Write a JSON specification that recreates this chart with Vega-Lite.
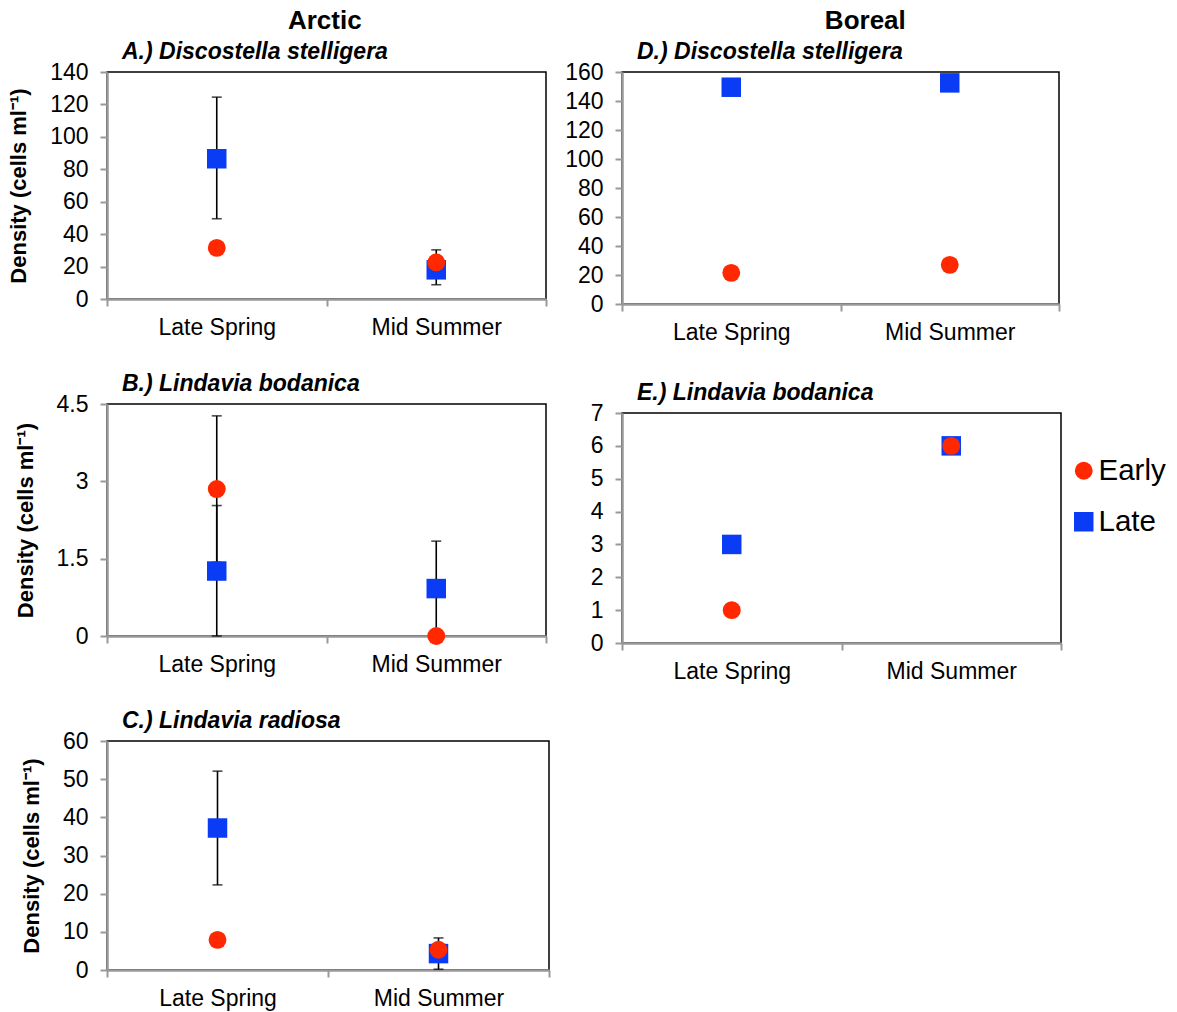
{
  "$schema": "https://vega.github.io/schema/vega-lite/v6.json",
  "background": "white",
  "padding": {"left": 6, "top": 8, "right": 5, "bottom": 5},
  "config": {
    "font": "Liberation Sans",
    "view": {"stroke": "black", "strokeWidth": 1.5},
    "axis": {
      "labelFont": "Liberation Sans", "labelFontSize": 23, "labelColor": "black",
      "domainColor": "#999999", "domainWidth": 2.5, "tickColor": "#999999", "tickWidth": 2, "tickSize": 7,
      "grid": false, "titleFont": "Liberation Sans", "titleFontSize": 22, "titleFontWeight": "bold", "titleColor": "black"
    },
    "axisX": {"labelPadding": 10, "labelAngle": 0, "tickBand": "extent", "title": null},
    "axisY": {"labelPadding": 12, "titlePadding": 19},
    "title": {"font": "Liberation Sans", "fontSize": 23, "fontWeight": "bold", "fontStyle": "italic", "anchor": "start", "frame": "group", "color": "black", "offset": -3, "dx": 15}
  },
  "datasets": {
    "d": [
      {"panel": "A", "season": "Late Spring", "group": "Late", "value": 86.5, "lo": 49.5, "hi": 124.5},
      {"panel": "A", "season": "Mid Summer", "group": "Late", "value": 18, "lo": 8.8, "hi": 30.3},
      {"panel": "A", "season": "Late Spring", "group": "Early", "value": 31.5, "lo": null, "hi": null},
      {"panel": "A", "season": "Mid Summer", "group": "Early", "value": 22.5, "lo": null, "hi": null},
      {"panel": "B", "season": "Late Spring", "group": "Late", "value": 1.26, "lo": 0, "hi": 2.53},
      {"panel": "B", "season": "Mid Summer", "group": "Late", "value": 0.92, "lo": 0, "hi": 1.84},
      {"panel": "B", "season": "Late Spring", "group": "Early", "value": 2.85, "lo": 1.43, "hi": 4.27},
      {"panel": "B", "season": "Mid Summer", "group": "Early", "value": 0, "lo": null, "hi": null},
      {"panel": "C", "season": "Late Spring", "group": "Late", "value": 37.2, "lo": 22.3, "hi": 52.1},
      {"panel": "C", "season": "Mid Summer", "group": "Late", "value": 4.3, "lo": 0.2, "hi": 8.4},
      {"panel": "C", "season": "Late Spring", "group": "Early", "value": 7.9, "lo": null, "hi": null},
      {"panel": "C", "season": "Mid Summer", "group": "Early", "value": 5.3, "lo": null, "hi": null},
      {"panel": "D", "season": "Late Spring", "group": "Late", "value": 149.5, "lo": null, "hi": null},
      {"panel": "D", "season": "Mid Summer", "group": "Late", "value": 152.5, "lo": null, "hi": null},
      {"panel": "D", "season": "Late Spring", "group": "Early", "value": 21.5, "lo": null, "hi": null},
      {"panel": "D", "season": "Mid Summer", "group": "Early", "value": 27, "lo": null, "hi": null},
      {"panel": "E", "season": "Late Spring", "group": "Late", "value": 3, "lo": null, "hi": null},
      {"panel": "E", "season": "Mid Summer", "group": "Late", "value": 6, "lo": null, "hi": null},
      {"panel": "E", "season": "Late Spring", "group": "Early", "value": 1, "lo": null, "hi": null},
      {"panel": "E", "season": "Mid Summer", "group": "Early", "value": 6, "lo": null, "hi": null}
    ]
  },
  "resolve": {"legend": {"color": "independent", "shape": "independent", "size": "independent"}},
  "spacing": 12,
  "hconcat": [
    {
      "title": {"text": "Arctic", "anchor": "middle", "frame": "bounds", "fontStyle": "normal", "fontSize": 26, "dx": 46, "offset": 6},
      "resolve": {"legend": {"color": "independent", "shape": "independent", "size": "independent"}},
      "spacing": 32,
      "vconcat": [
        {
          "title": {"text": "A.) Discostella stelligera"},
          "width": 439, "height": 227,
          "data": {"name": "d"},
          "transform": [{"filter": "datum.panel === 'A'"}],
          "encoding": {"x": {"field": "season", "type": "nominal", "scale": {"type": "band", "paddingInner": 0, "paddingOuter": 0, "domain": ["Late Spring", "Mid Summer"]}}},
          "layer": [
            {"mark": {"type": "rule", "color": "black", "strokeWidth": 1.6}, "encoding": {"y": {"field": "lo", "type": "quantitative", "scale": {"domain": [0, 140], "nice": false}, "axis": {"values": [0, 20, 40, 60, 80, 100, 120, 140], "title": "Density (cells ml⁻¹)"}}, "y2": {"field": "hi"}}},
            {"mark": {"type": "tick", "color": "black", "thickness": 1.6, "size": 10}, "encoding": {"y": {"field": "lo", "type": "quantitative", "scale": {"domain": [0, 140], "nice": false}, "axis": {"values": [0, 20, 40, 60, 80, 100, 120, 140], "title": "Density (cells ml⁻¹)"}}}},
            {"mark": {"type": "tick", "color": "black", "thickness": 1.6, "size": 10}, "encoding": {"y": {"field": "hi", "type": "quantitative", "scale": {"domain": [0, 140], "nice": false}, "axis": {"values": [0, 20, 40, 60, 80, 100, 120, 140], "title": "Density (cells ml⁻¹)"}}}},
            {"mark": {"type": "point", "filled": true, "opacity": 1},
             "encoding": {
               "y": {"field": "value", "type": "quantitative", "scale": {"domain": [0, 140], "nice": false}, "axis": {"values": [0, 20, 40, 60, 80, 100, 120, 140], "title": "Density (cells ml⁻¹)"}},
               "color": {"field": "group", "type": "nominal", "scale": {"domain": ["Early", "Late"], "range": ["#ff2800", "#0a3cf5"]}, "legend": null},
               "shape": {"field": "group", "type": "nominal", "scale": {"domain": ["Early", "Late"], "range": ["circle", "square"]}, "legend": null},
               "size": {"field": "group", "type": "nominal", "scale": {"domain": ["Early", "Late"], "range": [320, 380]}, "legend": null},
               "order": {"field": "group", "sort": "descending"}
             }}
          ]
        },
        {
          "title": {"text": "B.) Lindavia bodanica"},
          "width": 439, "height": 232,
          "data": {"name": "d"},
          "transform": [{"filter": "datum.panel === 'B'"}],
          "encoding": {"x": {"field": "season", "type": "nominal", "scale": {"type": "band", "paddingInner": 0, "paddingOuter": 0, "domain": ["Late Spring", "Mid Summer"]}}},
          "layer": [
            {"mark": {"type": "rule", "color": "black", "strokeWidth": 1.6}, "encoding": {"y": {"field": "lo", "type": "quantitative", "scale": {"domain": [0, 4.5], "nice": false}, "axis": {"values": [0, 1.5, 3, 4.5], "format": ".1~f", "title": "Density (cells ml⁻¹)"}}, "y2": {"field": "hi"}}},
            {"mark": {"type": "tick", "color": "black", "thickness": 1.6, "size": 10}, "encoding": {"y": {"field": "lo", "type": "quantitative", "scale": {"domain": [0, 4.5], "nice": false}, "axis": {"values": [0, 1.5, 3, 4.5], "format": ".1~f", "title": "Density (cells ml⁻¹)"}}}},
            {"mark": {"type": "tick", "color": "black", "thickness": 1.6, "size": 10}, "encoding": {"y": {"field": "hi", "type": "quantitative", "scale": {"domain": [0, 4.5], "nice": false}, "axis": {"values": [0, 1.5, 3, 4.5], "format": ".1~f", "title": "Density (cells ml⁻¹)"}}}},
            {"mark": {"type": "point", "filled": true, "opacity": 1},
             "encoding": {
               "y": {"field": "value", "type": "quantitative", "scale": {"domain": [0, 4.5], "nice": false}, "axis": {"values": [0, 1.5, 3, 4.5], "format": ".1~f", "title": "Density (cells ml⁻¹)"}},
               "color": {"field": "group", "type": "nominal", "scale": {"domain": ["Early", "Late"], "range": ["#ff2800", "#0a3cf5"]}, "legend": null},
               "shape": {"field": "group", "type": "nominal", "scale": {"domain": ["Early", "Late"], "range": ["circle", "square"]}, "legend": null},
               "size": {"field": "group", "type": "nominal", "scale": {"domain": ["Early", "Late"], "range": [320, 380]}, "legend": null},
               "order": {"field": "group", "sort": "descending"}
             }}
          ]
        },
        {
          "title": {"text": "C.) Lindavia radiosa"},
          "width": 442, "height": 229,
          "data": {"name": "d"},
          "transform": [{"filter": "datum.panel === 'C'"}],
          "encoding": {"x": {"field": "season", "type": "nominal", "scale": {"type": "band", "paddingInner": 0, "paddingOuter": 0, "domain": ["Late Spring", "Mid Summer"]}}},
          "layer": [
            {"mark": {"type": "rule", "color": "black", "strokeWidth": 1.6}, "encoding": {"y": {"field": "lo", "type": "quantitative", "scale": {"domain": [0, 60], "nice": false}, "axis": {"values": [0, 10, 20, 30, 40, 50, 60], "title": "Density (cells ml⁻¹)"}}, "y2": {"field": "hi"}}},
            {"mark": {"type": "tick", "color": "black", "thickness": 1.6, "size": 10}, "encoding": {"y": {"field": "lo", "type": "quantitative", "scale": {"domain": [0, 60], "nice": false}, "axis": {"values": [0, 10, 20, 30, 40, 50, 60], "title": "Density (cells ml⁻¹)"}}}},
            {"mark": {"type": "tick", "color": "black", "thickness": 1.6, "size": 10}, "encoding": {"y": {"field": "hi", "type": "quantitative", "scale": {"domain": [0, 60], "nice": false}, "axis": {"values": [0, 10, 20, 30, 40, 50, 60], "title": "Density (cells ml⁻¹)"}}}},
            {"mark": {"type": "point", "filled": true, "opacity": 1},
             "encoding": {
               "y": {"field": "value", "type": "quantitative", "scale": {"domain": [0, 60], "nice": false}, "axis": {"values": [0, 10, 20, 30, 40, 50, 60], "title": "Density (cells ml⁻¹)"}},
               "color": {"field": "group", "type": "nominal", "scale": {"domain": ["Early", "Late"], "range": ["#ff2800", "#0a3cf5"]}, "legend": null},
               "shape": {"field": "group", "type": "nominal", "scale": {"domain": ["Early", "Late"], "range": ["circle", "square"]}, "legend": null},
               "size": {"field": "group", "type": "nominal", "scale": {"domain": ["Early", "Late"], "range": [320, 380]}, "legend": null},
               "order": {"field": "group", "sort": "descending"}
             }}
          ]
        }
      ]
    },
    {
      "title": {"text": "Boreal", "anchor": "middle", "frame": "bounds", "fontStyle": "normal", "fontSize": 26, "dx": 0, "offset": 6},
      "resolve": {"legend": {"color": "independent", "shape": "independent", "size": "independent"}},
      "spacing": 36,
      "vconcat": [
        {
          "title": {"text": "D.) Discostella stelligera"},
          "width": 437, "height": 232,
          "data": {"name": "d"},
          "transform": [{"filter": "datum.panel === 'D'"}],
          "encoding": {"x": {"field": "season", "type": "nominal", "scale": {"type": "band", "paddingInner": 0, "paddingOuter": 0, "domain": ["Late Spring", "Mid Summer"]}}},
          "layer": [
            {"mark": {"type": "point", "filled": true, "opacity": 1},
             "encoding": {
               "y": {"field": "value", "type": "quantitative", "scale": {"domain": [0, 160], "nice": false}, "axis": {"values": [0, 20, 40, 60, 80, 100, 120, 140, 160], "title": null}},
               "color": {"field": "group", "type": "nominal", "scale": {"domain": ["Early", "Late"], "range": ["#ff2800", "#0a3cf5"]}, "legend": null},
               "shape": {"field": "group", "type": "nominal", "scale": {"domain": ["Early", "Late"], "range": ["circle", "square"]}, "legend": null},
               "size": {"field": "group", "type": "nominal", "scale": {"domain": ["Early", "Late"], "range": [320, 380]}, "legend": null},
               "order": {"field": "group", "sort": "descending"}
             }}
          ]
        },
        {
          "title": {"text": "E.) Lindavia bodanica"},
          "width": 439, "height": 230,
          "data": {"name": "d"},
          "transform": [{"filter": "datum.panel === 'E'"}],
          "encoding": {"x": {"field": "season", "type": "nominal", "scale": {"type": "band", "paddingInner": 0, "paddingOuter": 0, "domain": ["Late Spring", "Mid Summer"]}}},
          "layer": [
            {"mark": {"type": "point", "filled": true, "opacity": 1},
             "encoding": {
               "y": {"field": "value", "type": "quantitative", "scale": {"domain": [0, 7], "nice": false}, "axis": {"values": [0, 1, 2, 3, 4, 5, 6, 7], "title": null}},
               "color": {"field": "group", "type": "nominal", "scale": {"domain": ["Early", "Late"], "range": ["#ff2800", "#0a3cf5"]},
                 "legend": {"title": null, "orient": "none", "legendX": 447, "legendY": 43, "labelFontSize": 29.5, "labelFont": "Liberation Sans", "labelColor": "black", "symbolSize": 300, "symbolStrokeWidth": 0, "rowPadding": 20, "labelOffset": 0, "padding": 0}},
               "shape": {"field": "group", "type": "nominal", "scale": {"domain": ["Early", "Late"], "range": ["circle", "square"]},
                 "legend": {"title": null, "orient": "none", "legendX": 447, "legendY": 43, "labelFontSize": 29.5, "labelFont": "Liberation Sans", "labelColor": "black", "symbolSize": 300, "symbolStrokeWidth": 0, "rowPadding": 20, "labelOffset": 0, "padding": 0}},
               "size": {"field": "group", "type": "nominal", "scale": {"domain": ["Early", "Late"], "range": [320, 380]}, "legend": null},
               "order": {"field": "group", "sort": "descending"}
             }}
          ]
        }
      ]
    }
  ]
}
